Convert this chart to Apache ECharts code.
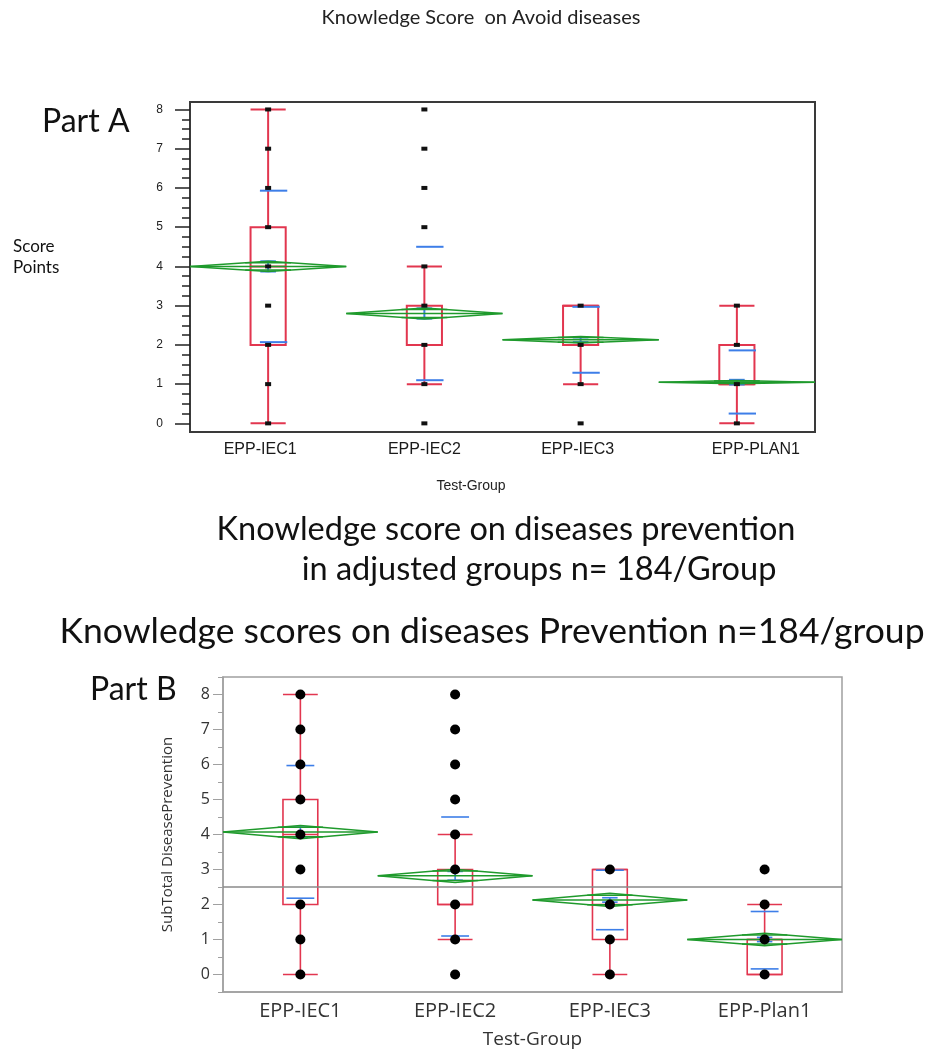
<!DOCTYPE html>
<html><head><meta charset="utf-8">
<script src="https://cdn.jsdelivr.net/npm/echarts@6/dist/echarts.min.js"></script>
<style>html,body{margin:0;padding:0;background:#fff}#c{width:937px;height:1050px}</style>
</head><body><div id="c"></div>
<script>
// ---------------- DATA ----------------
const groupsA = ['EPP-IEC1', 'EPP-IEC2', 'EPP-IEC3', 'EPP-PLAN1'];
const groupsB = ['EPP-IEC1', 'EPP-IEC2', 'EPP-IEC3', 'EPP-Plan1'];
const yTickLabels = [0, 1, 2, 3, 4, 5, 6, 7, 8];

// box stats per group: [whiskerLow, Q1, median, Q3, whiskerHigh]
const boxA = [[0, 2, 4, 5, 8], [1, 2, 2, 3, 4], [1, 2, 2, 3, 3], [0, 1, 1, 2, 3]];
const boxB = [[0, 2, 4, 5, 8], [1, 2, 2, 3, 4], [0, 1, 2, 3, 3], [0, 0, 1, 1, 2]];

// group means, std error, 95% CI half-height (means diamonds)
const meanA = [4.0, 2.8, 2.13, 1.05];
const seA = [0.13, 0.13, 0.06, 0.06];
const ciA = [0.13, 0.14, 0.085, 0.04];
const meanB = [4.07, 2.82, 2.13, 1.0];
const seB = [0.14, 0.125, 0.063, 0.06];
const ciB = [0.19, 0.19, 0.19, 0.18];

// mean - SD and mean + SD lines
const sdLowA = [2.07, 1.1, 1.29, 0.25];
const sdHighA = [5.93, 4.5, 2.97, 1.86];
const sdLowB = [2.18, 1.1, 1.28, 0.16];
const sdHighB = [5.97, 4.5, 2.98, 1.8];

// observed score values per group
const pointsA = [[0, 1, 2, 3, 4, 5, 6, 7, 8], [0, 1, 2, 3, 4, 5, 6, 7, 8], [0, 1, 2, 3], [0, 1, 2, 3]];
const pointsB = [[0, 1, 2, 3, 4, 5, 6, 7, 8], [0, 1, 2, 3, 4, 5, 6, 7, 8], [0, 1, 2, 3], [0, 1, 2, 3]];

// overall reference line (Part B)
const refLineB = 2.5;

// ---------------- STYLE ----------------
const RED = '#e2364f', BLUE = '#3d7ee8', GREEN = '#1f9a2c';
const labelShiftA = [-8, 0, -3, 19];
const minorA = []; for (let k = 0; k <= 32; k++) minorA.push(k * 0.25);
const minorB = []; for (let k = -1; k <= 17; k++) minorB.push(k * 0.5);

function boxItem(wFrac, lw) {
  return function (params, api) {
    const i = api.value(0);
    const band = api.size([1, 0])[0];
    const w = band * wFrac;
    const x = api.coord([i, 0])[0];
    const y = v => api.coord([i, v])[1];
    const lo = api.value(1), q1 = api.value(2), med = api.value(3), q3 = api.value(4), hi = api.value(5);
    const st = { stroke: RED, lineWidth: lw, fill: 'none' };
    const L = (x1, y1, x2, y2) => ({ type: 'line', shape: { x1, y1, x2, y2 }, style: st });
    return { type: 'group', children: [
      { type: 'rect', shape: { x: x - w / 2, y: y(q3), width: w, height: y(q1) - y(q3) }, style: st },
      L(x - w / 2, y(med), x + w / 2, y(med)),
      L(x, y(q3), x, y(hi)), L(x, y(q1), x, y(lo)),
      L(x - w / 2, y(hi), x + w / 2, y(hi)), L(x - w / 2, y(lo), x + w / 2, y(lo))
    ]};
  };
}
function diamondItem(lw) {
  return function (params, api) {
    const i = api.value(0), m = api.value(1), ci = api.value(2);
    const band = api.size([1, 0])[0];
    const h = band / 2;
    const p = api.coord([i, m]);
    const x = p[0], ym = p[1];
    const yt = api.coord([i, m + ci])[1], yb = api.coord([i, m - ci])[1];
    const r = Math.SQRT1_2;
    const yo1 = api.coord([i, m + ci * r])[1], yo2 = api.coord([i, m - ci * r])[1];
    const ow = h * (1 - r);
    const st = { stroke: GREEN, lineWidth: lw, fill: 'none' };
    return { type: 'group', children: [
      { type: 'polygon', shape: { points: [[x - h, ym], [x, yt], [x + h, ym], [x, yb]] }, style: st },
      { type: 'line', shape: { x1: x - h, y1: ym, x2: x + h, y2: ym }, style: st },
      { type: 'line', shape: { x1: x - ow, y1: yo1, x2: x + ow, y2: yo1 }, style: st },
      { type: 'line', shape: { x1: x - ow, y1: yo2, x2: x + ow, y2: yo2 }, style: st }
    ]};
  };
}
function blueItem(wFrac, offFrac, lw) {
  return function (params, api) {
    const i = api.value(0), m = api.value(1), se = api.value(2), lo = api.value(3), hi = api.value(4);
    const band = api.size([1, 0])[0];
    const x = api.coord([i, m])[0];
    const xs = x + band * offFrac, w = band * wFrac, cw = band * 0.05;
    const y = v => api.coord([i, v])[1];
    const st = { stroke: BLUE, lineWidth: lw };
    const L = (x1, y1, x2, y2) => ({ type: 'line', shape: { x1, y1, x2, y2 }, style: st });
    return { type: 'group', children: [
      L(xs - w / 2, y(lo), xs + w / 2, y(lo)),
      L(xs - w / 2, y(hi), xs + w / 2, y(hi)),
      L(x, y(m - se), x, y(m + se)),
      L(x - cw, y(m - se), x + cw, y(m - se)),
      L(x - cw, y(m + se), x + cw, y(m + se))
    ]};
  };
}

const scatterA = []; pointsA.forEach((arr, i) => arr.forEach(v => scatterA.push([i, v])));
const scatterB = []; pointsB.forEach((arr, i) => arr.forEach(v => scatterB.push([i, v])));

const richA = {};
labelShiftA.forEach((d, i) => {
  richA['s' + i] = { fontSize: 16, fontFamily: 'Liberation Sans', color: '#1a1a1a',
    padding: d < 0 ? [0, -2 * d, 0, 0] : [0, 0, 0, 2 * d] };
});

const FA = 'Lato';
const txt = (x, y, text, size, align, extra) => ({
  type: 'text', x, y, silent: true,
  style: Object.assign({ text, font: size + 'px ' + FA, fill: '#111',
    textAlign: align, textVerticalAlign: 'middle', align: align, verticalAlign: 'middle' }, extra || {})
});

const chart = echarts.init(document.getElementById('c'), null, { renderer: 'canvas' });
chart.setOption({
  animation: false,
  backgroundColor: '#fff',
  graphic: [
    txt(481, 18, 'Knowledge Score  on Avoid diseases', 20, 'center', { fill: '#222' }),
    txt(42, 122, 'Part A', 32, 'left'),
    txt(13, 247, 'Score', 17, 'left'),
    txt(13, 268, 'Points', 17, 'left'),
    txt(471, 486, 'Test-Group', 14, 'center', { font: '14px Liberation Sans', fill: '#222' }),
    txt(506, 530, 'Knowledge score on diseases prevention', 32.5, 'center'),
    txt(539, 570, 'in adjusted groups n= 184/Group', 32.5, 'center'),
    txt(492, 632, 'Knowledge scores on diseases Prevention n=184/group', 35.5, 'center'),
    txt(90, 690, 'Part B', 32, 'left')
  ],
  grid: [
    { left: 190, top: 102, width: 625, height: 330, show: true, borderColor: '#3a3a3a', borderWidth: 2 },
    { left: 223, top: 677, width: 619, height: 317, show: true, borderColor: '#a0a0a0', borderWidth: 1.5 }
  ],
  xAxis: [
    { gridIndex: 0, type: 'category', data: groupsA,
      axisLine: { onZero: false, lineStyle: { color: '#3a3a3a', width: 2 } },
      axisTick: { interval: 0, length: 9, lineStyle: { color: '#222', width: 1.5 } },
      axisLabel: { interval: 0, margin: 10, formatter: (v, i) => '{s' + i + '|' + v + '}', rich: richA } },
    { gridIndex: 1, type: 'category', data: groupsB,
      axisLine: { onZero: false, lineStyle: { color: '#a0a0a0', width: 1.5 } },
      axisTick: { interval: 0, length: 7, lineStyle: { color: '#a0a0a0', width: 1 } },
      axisLabel: { interval: 0, margin: 9, fontSize: 20, fontFamily: 'Open Sans', color: '#333' },
      name: 'Test-Group', nameLocation: 'middle', nameGap: 38,
      nameTextStyle: { fontSize: 19, fontFamily: 'Open Sans', color: '#333' } }
  ],
  yAxis: [
    { gridIndex: 0, type: 'value', min: -0.22, max: 8.19, position: 'left',
      axisLine: { show: true, lineStyle: { color: '#3a3a3a', width: 2 } },
      axisTick: { show: true, customValues: yTickLabels, length: 15, lineStyle: { color: '#222', width: 1.5 } },
      axisLabel: { customValues: yTickLabels, margin: 27, fontSize: 12, fontFamily: 'Liberation Sans', color: '#222' },
      splitLine: { show: false } },
    { gridIndex: 0, type: 'value', min: -0.22, max: 8.19, position: 'left',
      axisLine: { show: false },
      axisTick: { show: true, customValues: minorA, length: 8, lineStyle: { color: '#222', width: 1.5 } },
      axisLabel: { show: false }, splitLine: { show: false } },
    { gridIndex: 1, type: 'value', min: -0.5, max: 8.5, position: 'left',
      axisLine: { show: true, lineStyle: { color: '#a0a0a0', width: 1.5 } },
      axisTick: { show: true, customValues: yTickLabels, length: 10, lineStyle: { color: '#a0a0a0', width: 1 } },
      axisLabel: { customValues: yTickLabels, margin: 13, fontSize: 16, fontFamily: 'Open Sans', color: '#333' },
      splitLine: { show: false },
      name: 'SubTotal DiseasePrevention', nameLocation: 'middle', nameGap: 48,
      nameTextStyle: { fontSize: 15, fontFamily: 'Open Sans', color: '#333' } },
    { gridIndex: 1, type: 'value', min: -0.5, max: 8.5, position: 'left',
      axisLine: { show: false },
      axisTick: { show: true, customValues: minorB, length: 5, lineStyle: { color: '#a0a0a0', width: 1 } },
      axisLabel: { show: false }, splitLine: { show: false } }
  ],
  series: [
    // Part A
    { type: 'scatter', xAxisIndex: 0, yAxisIndex: 0, data: scatterA, symbol: 'rect', symbolSize: [6, 4],
      itemStyle: { color: '#111', opacity: 1 }, silent: true },
    { type: 'custom', xAxisIndex: 0, yAxisIndex: 0, renderItem: boxItem(0.225, 2),
      data: boxA.map((b, i) => [i].concat(b)), encode: { x: 0, y: [1, 2, 3, 4, 5] } },
    { type: 'custom', xAxisIndex: 0, yAxisIndex: 0, renderItem: blueItem(0.175, 0.035, 2),
      data: meanA.map((m, i) => [i, m, seA[i], sdLowA[i], sdHighA[i]]), encode: { x: 0, y: [1, 3, 4] } },
    { type: 'custom', xAxisIndex: 0, yAxisIndex: 0, renderItem: diamondItem(1.5),
      data: meanA.map((m, i) => [i, m, ciA[i]]), encode: { x: 0, y: 1 } },
    // Part B
    { type: 'scatter', xAxisIndex: 1, yAxisIndex: 2, data: scatterB, symbol: 'circle', symbolSize: 10,
      itemStyle: { color: '#000', opacity: 1 }, silent: true,
      markLine: { silent: true, symbol: 'none', label: { show: false },
        lineStyle: { color: '#8a8a8a', width: 1.5, type: 'solid' }, data: [{ yAxis: refLineB }] } },
    { type: 'custom', xAxisIndex: 1, yAxisIndex: 2, renderItem: boxItem(0.225, 1.6),
      data: boxB.map((b, i) => [i].concat(b)), encode: { x: 0, y: [1, 2, 3, 4, 5] } },
    { type: 'custom', xAxisIndex: 1, yAxisIndex: 2, renderItem: blueItem(0.18, 0, 1.6),
      data: meanB.map((m, i) => [i, m, seB[i], sdLowB[i], sdHighB[i]]), encode: { x: 0, y: [1, 3, 4] } },
    { type: 'custom', xAxisIndex: 1, yAxisIndex: 2, renderItem: diamondItem(1.5),
      data: meanB.map((m, i) => [i, m, ciB[i]]), encode: { x: 0, y: 1 } }
  ]
});
</script>
</body></html>
